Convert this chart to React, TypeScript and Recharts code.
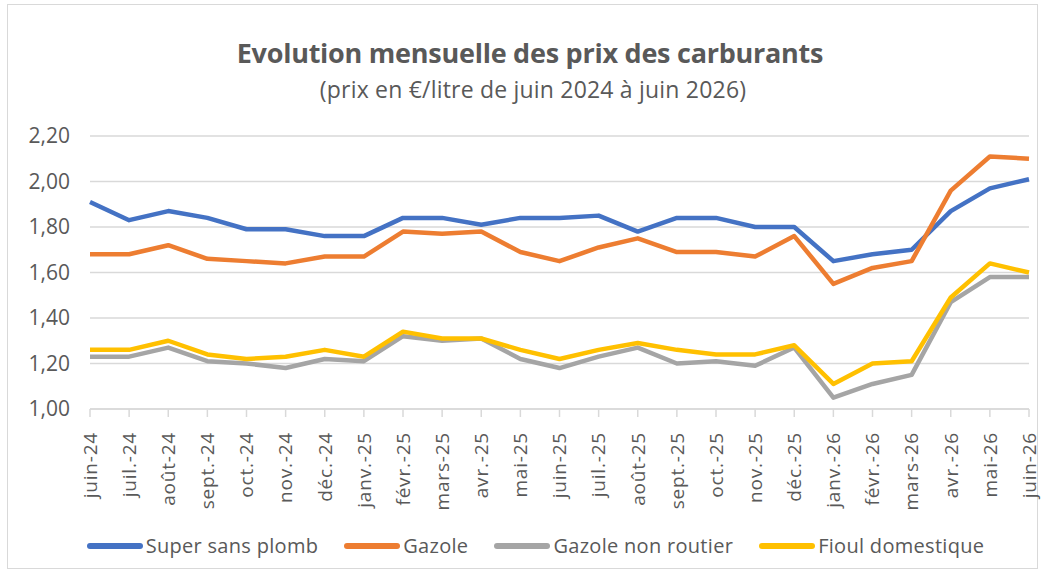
import React from 'react';
import { LineChart, Line, XAxis, YAxis, CartesianGrid, Legend } from 'recharts';

const months = ['juin-24','juil.-24','août-24','sept.-24','oct.-24','nov.-24','déc.-24','janv.-25','févr.-25','mars-25','avr.-25','mai-25','juin-25','juil.-25','août-25','sept.-25','oct.-25','nov.-25','déc.-25','janv.-26','févr.-26','mars-26','avr.-26','mai-26','juin-26'];
const superSansPlomb = [1.91,1.83,1.87,1.84,1.79,1.79,1.76,1.76,1.84,1.84,1.81,1.84,1.84,1.85,1.78,1.84,1.84,1.80,1.80,1.65,1.68,1.70,1.87,1.97,2.01];
const gazole = [1.68,1.68,1.72,1.66,1.65,1.64,1.67,1.67,1.78,1.77,1.78,1.69,1.65,1.71,1.75,1.69,1.69,1.67,1.76,1.55,1.62,1.65,1.96,2.11,2.10];
const gazoleNonRoutier = [1.23,1.23,1.27,1.21,1.20,1.18,1.22,1.21,1.32,1.30,1.31,1.22,1.18,1.23,1.27,1.20,1.21,1.19,1.27,1.05,1.11,1.15,1.47,1.58,1.58];
const fioulDomestique = [1.26,1.26,1.30,1.24,1.22,1.23,1.26,1.23,1.34,1.31,1.31,1.26,1.22,1.26,1.29,1.26,1.24,1.24,1.28,1.11,1.20,1.21,1.49,1.64,1.60];
const yTicks = [1.0,1.2,1.4,1.6,1.8,2.0,2.2];

const data = months.map((m, i) => ({
  month: m,
  ssp: superSansPlomb[i],
  gaz: gazole[i],
  gnr: gazoleNonRoutier[i],
  fioul: fioulDomestique[i],
}));

const FONT = '"Open Sans", Lato, sans-serif';
const TXT = '#595959';

const XTick = (props: any) => {
  const { x, y, payload } = props;
  return (
    <text
      transform={`translate(${x},${y + 13}) rotate(-90)`}
      textAnchor="end"
      dy="0.36em"
      fontSize={19}
      letterSpacing={0.8}
      fill={TXT}
      fontFamily={FONT}
    >
      {payload.value}
    </text>
  );
};

const LegendContent = (props: any) => {
  const items = [
    { label: 'Super sans plomb', color: '#4472C4' },
    { label: 'Gazole', color: '#ED7D31' },
    { label: 'Gazole non routier', color: '#A5A5A5' },
    { label: 'Fioul domestique', color: '#FFC000' },
  ];
  return (
    <div style={{ display: 'flex', justifyContent: 'center', alignItems: 'center', fontFamily: FONT, fontSize: 20, letterSpacing: 0.3, color: TXT, paddingLeft: 42 }}>
      {items.map((it) => (
        <div key={it.label} style={{ display: 'flex', alignItems: 'center', margin: '0 13px' }}>
          <div style={{ width: 56, height: 6, background: it.color, borderRadius: 3, marginRight: 3 }} />
          <span>{it.label}</span>
        </div>
      ))}
    </div>
  );
};

export default function App() {
  return (
    <div style={{ position: 'absolute', left: 0, top: 0, width: 1044, height: 573, background: '#fff' }}>
      <div style={{ position: 'absolute', left: 7, top: 4, width: 1029, height: 563, border: '1px solid #d9d9d9' }} />
      <div style={{ position: 'absolute', left: 0, top: 34, width: 1060, textAlign: 'center', fontFamily: FONT, fontWeight: 700, fontSize: 27, letterSpacing: -0.25, color: TXT }}>
        Evolution mensuelle des prix des carburants
      </div>
      <div style={{ position: 'absolute', left: 0, top: 73, width: 1066, textAlign: 'center', fontFamily: FONT, fontSize: 23, letterSpacing: 0.2, color: TXT }}>
        (prix en €/litre de juin 2024 à juin 2026)
      </div>
      <div style={{ position: 'absolute', left: 0, top: 0 }}>
        <LineChart width={1044} height={573} data={data} margin={{ top: 136, right: 15, bottom: 10, left: 0 }}>
          <CartesianGrid vertical={false} stroke="#d9d9d9" strokeWidth={1.5} />
          <XAxis
            dataKey="month"
            interval={0}
            tick={<XTick />}
            tickLine={{ stroke: '#d9d9d9', strokeWidth: 1.5 }}
            tickSize={8}
            axisLine={{ stroke: '#d9d9d9', strokeWidth: 1.5 }}
            height={127}
          />
          <YAxis
            domain={[1, 2.2]}
            ticks={yTicks}
            width={90}
            axisLine={false}
            tickLine={false}
            tickSize={0}
            tickMargin={20}
            tickFormatter={(v: number) => v.toFixed(2).replace('.', ',')}
            tick={{ fontSize: 21, fill: TXT, fontFamily: FONT }}
          />
          <Legend verticalAlign="bottom" content={<LegendContent />} wrapperStyle={{ bottom: 14 }} />
          <Line dataKey="ssp" stroke="#4472C4" strokeWidth={4.5} dot={false} isAnimationActive={false} strokeLinejoin="round" />
          <Line dataKey="gaz" stroke="#ED7D31" strokeWidth={4.5} dot={false} isAnimationActive={false} strokeLinejoin="round" />
          <Line dataKey="gnr" stroke="#A5A5A5" strokeWidth={4.5} dot={false} isAnimationActive={false} strokeLinejoin="round" />
          <Line dataKey="fioul" stroke="#FFC000" strokeWidth={4.5} dot={false} isAnimationActive={false} strokeLinejoin="round" />
        </LineChart>
      </div>
    </div>
  );
}
